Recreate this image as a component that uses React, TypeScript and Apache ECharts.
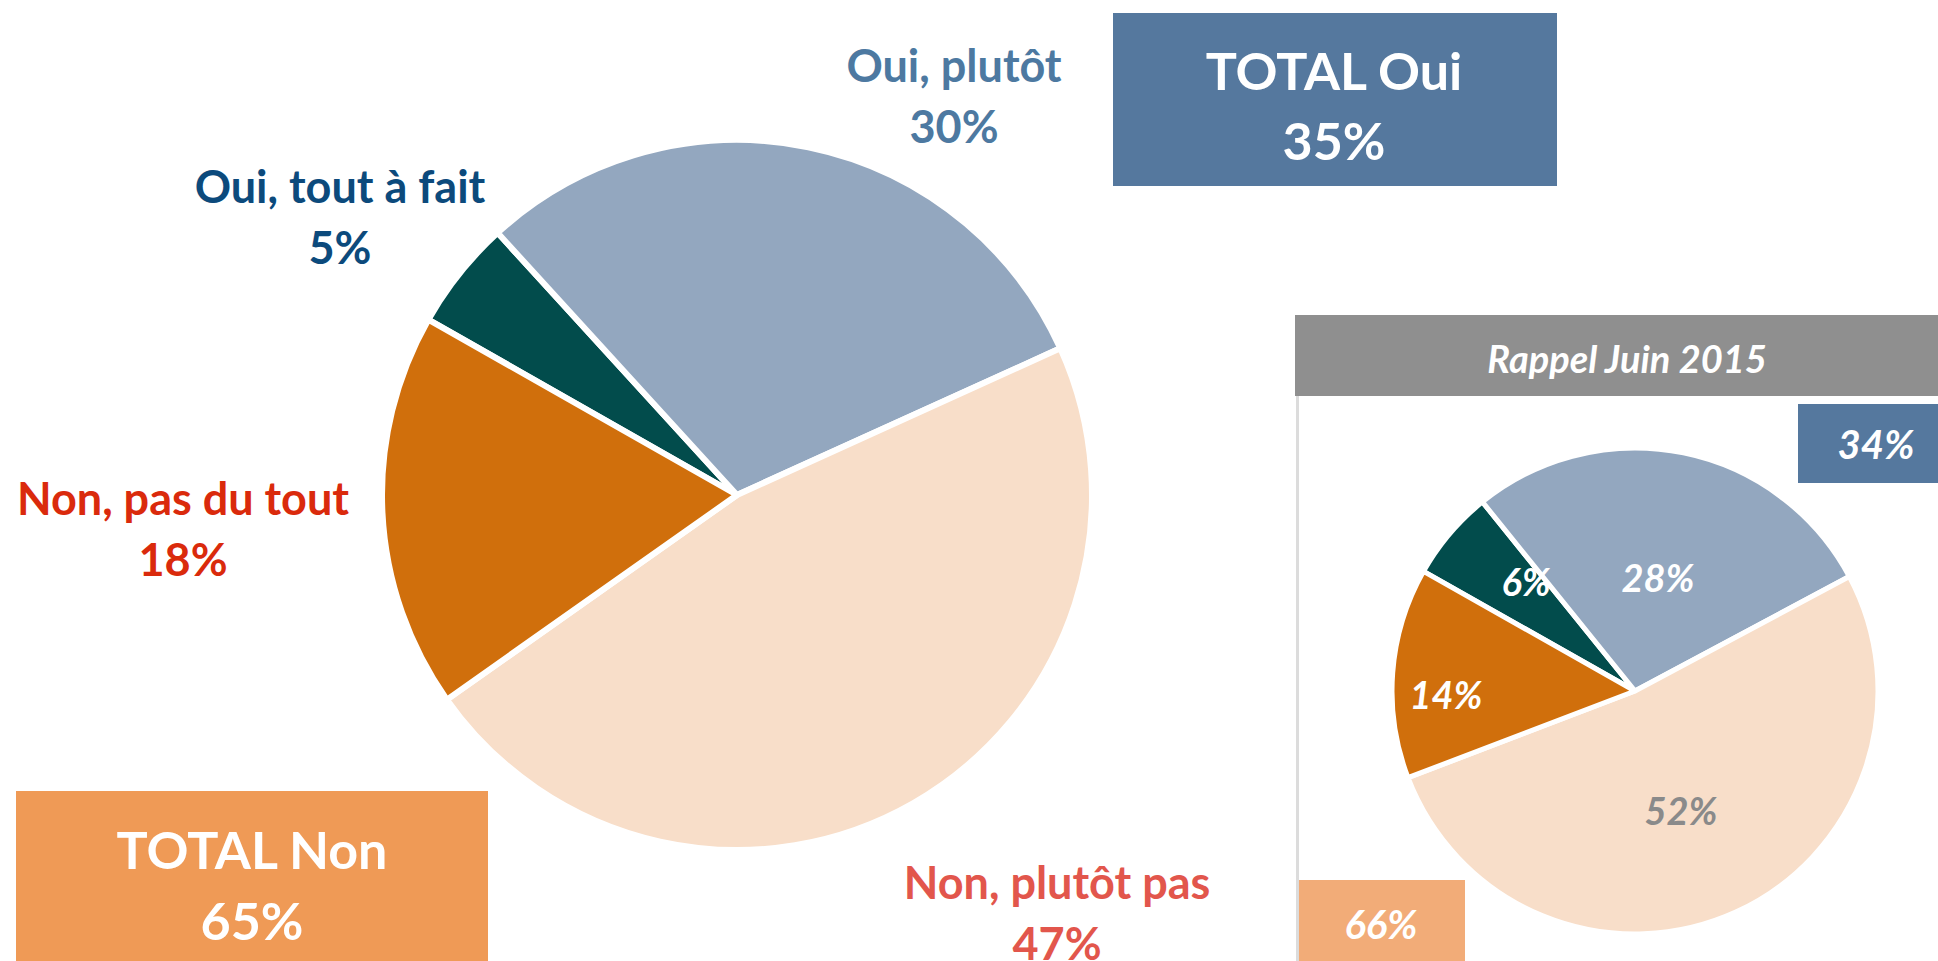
import React, { useEffect, useRef } from "react";
import * as echarts from "echarts";

// ---- data ----
const categories = ["Oui, tout à fait", "Oui, plutôt", "Non, plutôt pas", "Non, pas du tout"];
const mainValues = [5, 30, 47, 18];
const rappelValues = [6, 28, 52, 14];
const totalLabels = ["TOTAL Oui", "TOTAL Non"];
const totalValues = [35, 65];
const rappelTotals = [34, 66];
const rappelTitle = "Rappel Juin 2015";

// ---- styles / layout ----
const sliceColors = ["#024c4c", "#93a7bf", "#f8dec9", "#d06f0c"];
const labelColors = ["#0c4a7c", "#4d79a1", "#e2564c", "#da2a0c"];
const rappelLabelColors = ["#ffffff", "#ffffff", "#8a8a8a", "#ffffff"];
const mainLabelPos = [
  [340, 216],
  [954, 95],
  [1057, 912],
  [183, 528],
];
const rappelLabelPos = [
  [1526, 581],
  [1658, 577],
  [1681, 810],
  [1446, 694],
];
const FONT = "Lato";

export default function App() {
  const ref = useRef<HTMLDivElement>(null);
  useEffect(() => {
    if (!ref.current) return;
    const chart = echarts.init(ref.current, undefined, { renderer: "svg" });
    const mainData = categories.map((name, i) => ({
      name,
      value: mainValues[i],
      itemStyle: { color: sliceColors[i] },
      label: { color: labelColors[i] },
    }));
    const rappelData = categories.map((name, i) => ({
      name,
      value: rappelValues[i],
      itemStyle: { color: sliceColors[i] },
      label: { color: rappelLabelColors[i] },
    }));
    const boxText = (x: number, y: number, text: string, size: number, italic = false) => ({
      type: "text",
      x,
      y,
      style: {
        text,
        fill: "#ffffff",
        fontFamily: FONT,
        fontWeight: "bold",
        fontStyle: italic ? "italic" : "normal",
        fontSize: size,
        align: "center",
        verticalAlign: "middle",
      },
    });
    chart.setOption({
      animation: false,
      backgroundColor: "#ffffff",
      series: [
        {
          type: "pie",
          center: [737, 495],
          radius: 355,
          startAngle: 150.4,
          clockwise: true,
          avoidLabelOverlap: false,
          itemStyle: { borderColor: "#ffffff", borderWidth: 6 },
          label: {
            show: true,
            position: "outside",
            fontFamily: FONT,
            fontWeight: "bold",
            fontSize: 45,
            lineHeight: 61,
            align: "center",
            formatter: (p: any) => `${p.name}\n${p.value}%`,
          },
          labelLine: { show: false },
          labelLayout: (p: any) => ({
            x: mainLabelPos[p.dataIndex][0],
            y: mainLabelPos[p.dataIndex][1],
            align: "center",
            verticalAlign: "middle",
          }),
          emphasis: { disabled: true },
          data: mainData,
        },
        {
          type: "pie",
          center: [1635, 691],
          radius: 243,
          startAngle: 150.5,
          clockwise: true,
          avoidLabelOverlap: false,
          itemStyle: { borderColor: "#ffffff", borderWidth: 5 },
          label: {
            show: true,
            position: "inside",
            fontFamily: FONT,
            fontWeight: "bold",
            fontStyle: "italic",
            fontSize: 38,
            formatter: (p: any) => `${p.value}%`,
          },
          labelLine: { show: false },
          labelLayout: (p: any) => ({
            x: rappelLabelPos[p.dataIndex][0],
            y: rappelLabelPos[p.dataIndex][1],
            align: "center",
            verticalAlign: "middle",
          }),
          emphasis: { disabled: true },
          data: rappelData,
        },
      ],
      graphic: {
        elements: [
          // TOTAL Oui box
          { type: "rect", shape: { x: 1113, y: 13, width: 444, height: 173 }, style: { fill: "#55789e" } },
          boxText(1334, 70, totalLabels[0], 52),
          boxText(1334, 140, `${totalValues[0]}%`, 52),
          // TOTAL Non box
          { type: "rect", shape: { x: 16, y: 791, width: 472, height: 180 }, style: { fill: "#ef9a56" } },
          boxText(252, 849, totalLabels[1], 52),
          boxText(252, 920, `${totalValues[1]}%`, 52),
          // Rappel panel
          { type: "rect", shape: { x: 1295, y: 315, width: 643, height: 81 }, style: { fill: "#8f8f8f" } },
          boxText(1627, 358, rappelTitle, 38, true),
          { type: "line", shape: { x1: 1297.5, y1: 396, x2: 1297.5, y2: 961 }, style: { stroke: "#dcdcdc", lineWidth: 3 } },
          { type: "rect", shape: { x: 1798, y: 404, width: 140, height: 79 }, style: { fill: "#55789e" } },
          boxText(1876, 444, `${rappelTotals[0]}%`, 40, true),
          { type: "rect", shape: { x: 1299, y: 880, width: 166, height: 81 }, style: { fill: "#f2ac78" } },
          boxText(1381, 924, `${rappelTotals[1]}%`, 40, true),
        ],
      },
    });
    return () => chart.dispose();
  }, []);
  return (
    <div
      ref={ref}
      style={{ position: "absolute", left: 0, top: 0, width: 1938, height: 961 }}
    />
  );
}
